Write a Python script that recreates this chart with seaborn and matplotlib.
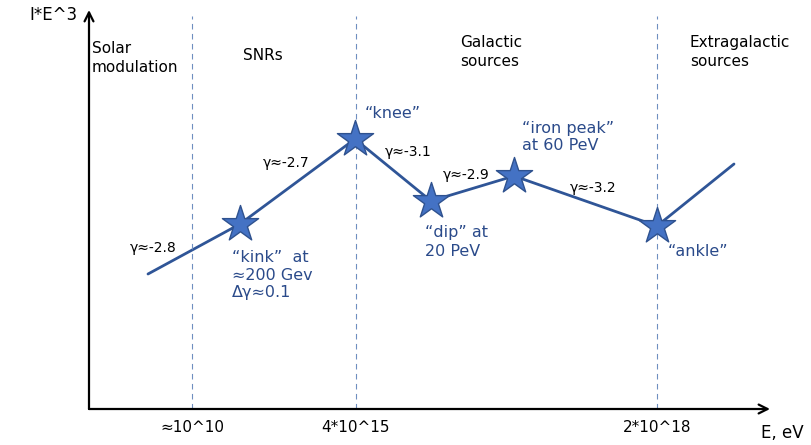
import seaborn as sns
import pandas as pd
import matplotlib.pyplot as plt

# schematic cosmic ray spectrum, I*E^3 vs E (arbitrary schematic units)
energy = [59, 151, 266, 342, 425, 568, 645]
flux = [135, 185, 270, 208, 233, 183, 245]
is_feature = [False, True, True, True, True, True, False]

boundary_pos = [103, 267, 568]
boundary_labels = ["≈10^10", "4*10^15", "2*10^18"]

region_names = ["Solar\nmodulation", "SNRs", "Galactic\nsources", "Extragalactic\nsources"]
slopes = ["γ≈-2.8", "γ≈-2.7", "γ≈-3.1", "γ≈-2.9", "γ≈-3.2"]
features = ["“kink”  at\n≈200 Gev\nΔγ≈0.1", "“knee”", "“dip” at\n20 PeV",
            "“iron peak”\nat 60 PeV", "“ankle”"]

if __name__ == '__main__':
    sns.set_theme(style="white")
    plt.rcParams['font.family'] = ['DejaVu Sans']
    plt.rcParams['text.color'] = 'black'
    plt.rcParams['xtick.color'] = 'black'

    df = pd.DataFrame({"energy": energy, "flux": flux, "feature": is_feature})

    fig = plt.figure(figsize=(8.12, 4.45), dpi=100)
    ax = fig.add_axes([89 / 812, 36 / 445, 681 / 812, 399 / 445])

    line_col = "#2F5597"
    blue_txt = "#2A4A8A"

    sns.lineplot(data=df, x="energy", y="flux", color=line_col, linewidth=2, ax=ax, sort=False)
    sns.scatterplot(data=df[df["feature"]], x="energy", y="flux", marker="*", s=750,
                    color="#4472C4", edgecolor="#2F528F", linewidth=1, zorder=5, ax=ax)

    for b in boundary_pos:
        ax.axvline(b, ymax=0.985, color="#6F8FC0", linestyle=(0, (5, 4)), linewidth=0.8)

    ax.set_xlim(0, 681)
    ax.set_ylim(0, 399)
    ax.set_xticks(boundary_pos)
    ax.set_xticklabels(boundary_labels, fontsize=11)
    ax.tick_params(axis="x", length=0, pad=8)
    ax.set_yticks([])
    ax.set_xlabel("")
    ax.set_ylabel("")
    for s in ax.spines.values():
        s.set_visible(False)

    # axis arrows
    ax.annotate("", xy=(1, 0), xytext=(0, 0), xycoords="axes fraction",
                arrowprops=dict(arrowstyle="->", color="black", lw=1.6, mutation_scale=16,
                                shrinkA=0, shrinkB=0), annotation_clip=False)
    ax.annotate("", xy=(0, 1), xytext=(0, 0), xycoords="axes fraction",
                arrowprops=dict(arrowstyle="->", color="black", lw=1.6, mutation_scale=16,
                                shrinkA=0, shrinkB=0), annotation_clip=False)

    def px(x, y):
        return x - 89, 409 - y

    ax.text(*px(78, 15), "I*E^3", fontsize=12, ha="right", va="center", clip_on=False)
    ax.text(*px(804, 433), "E, eV", fontsize=12, ha="right", va="center", clip_on=False)

    # region names
    for (x, y), name in zip([(92, 58), (243, 55), (460, 52), (690, 52)], region_names):
        ax.text(*px(x, y), name, fontsize=11, ha="left", va="center", linespacing=1.3)

    # slope labels
    for (x, y), s in zip([(130, 248), (263, 163), (385, 152), (443, 175), (570, 188)], slopes):
        ax.text(*px(x, y), s, fontsize=10, ha="left", va="center")

    # feature labels
    for (x, y), f in zip([(232, 275), (365, 113), (425, 242), (522, 137), (668, 252)], features):
        ax.text(*px(x, y), f, fontsize=11.5, ha="left", va="center", color=blue_txt,
                linespacing=1.25)

    fig.savefig("out.png", dpi=100)
